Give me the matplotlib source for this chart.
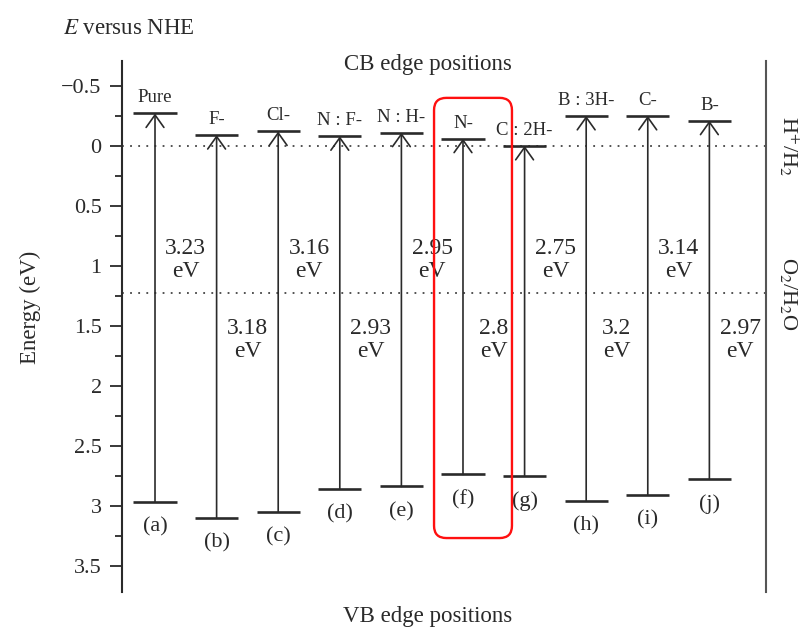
import numpy as np
import matplotlib.pyplot as plt
from matplotlib.patches import FancyBboxPatch
from matplotlib.ticker import MultipleLocator
import matplotlib.transforms as mtransforms

plt.rcParams['font.family'] = ['Liberation Serif', 'DejaVu Serif']
plt.rcParams['mathtext.fontset'] = 'stix'

# band edges (eV versus NHE) for each doped system
letters = ['(a)', '(b)', '(c)', '(d)', '(e)', '(f)', '(g)', '(h)', '(i)', '(j)']
dopants = ['Pure', 'F-', 'Cl-', 'N : F-', 'N : H-', 'N-', 'C : 2H-', 'B : 3H-', 'C-', 'B-']
cb_edge = [-0.27, -0.09, -0.12, -0.08, -0.11, -0.06, 0.00, -0.25, -0.25, -0.21]
vb_edge = [2.97, 3.10, 3.05, 2.86, 2.84, 2.74, 2.75, 2.96, 2.91, 2.78]
gaps = ['3.23', '3.18', '3.16', '2.93', '2.95', '2.8', '2.75', '3.2', '3.14', '2.97']

redox_levels = [0.0, 1.23]
redox_labels = [r'H$^{+}$/H$_2$', r'O$_2$/H$_2$O']

yticks = [-0.5, 0, 0.5, 1, 1.5, 2, 2.5, 3, 3.5]
ytick_labels = ['\u22120.5', '0', '0.5', '1', '1.5', '2', '2.5', '3', '3.5']

highlight = 5  # (f) N-

ink = '#2a2a2a'

fig = plt.figure(figsize=(8.01, 6.29), dpi=100)
ax = fig.add_axes([0.1523, 0.0588, 0.8036, 0.8447])

x = np.arange(1, len(dopants) + 1)

# dotted redox levels
for lev in redox_levels:
    ax.axhline(lev, color='#444444', lw=1.3, ls=(0, (1, 3.5)), zorder=1)

# CB and VB edge lines
ax.hlines(cb_edge, x - 0.35, x + 0.35, color=ink, lw=1.9, zorder=3)
ax.hlines(vb_edge, x - 0.35, x + 0.35, color=ink, lw=1.9, zorder=3)

for i, xi in enumerate(x):
    ax.annotate('', xy=(xi, cb_edge[i]), xytext=(xi, vb_edge[i]),
                arrowprops=dict(arrowstyle='->,head_length=0.45,head_width=0.32',
                                lw=1.2, color=ink, shrinkA=0, shrinkB=0,
                                mutation_scale=20), zorder=2)
    ax.annotate(dopants[i], xy=(xi, cb_edge[i]), xytext=(0, 8),
                textcoords='offset points', ha='center', va='baseline',
                fontsize=13.5, color=ink)
    ax.annotate(letters[i], xy=(xi, vb_edge[i]), xytext=(0, -11),
                textcoords='offset points', ha='center', va='top',
                fontsize=16, color=ink)
    ylab = 0.95 if i % 2 == 0 else 1.62
    ax.text(xi + 0.5, ylab, gaps[i] + '\neV', ha='center', va='center',
            fontsize=17, color=ink, linespacing=1.1)

# red highlight around (f)
h = highlight
box = FancyBboxPatch((x[h] - 0.47, cb_edge[h] - 0.34), 1.265,
                     (vb_edge[h] + 0.53) - (cb_edge[h] - 0.34),
                     boxstyle='round,pad=0,rounding_size=0.2',
                     mutation_aspect=0.513, ec='#ff1010', fc='none',
                     lw=1.7, clip_on=False, zorder=5)
ax.add_patch(box)

ax.set_xlim(0.464, 10.914)
ax.set_ylim(3.72, -0.71)
ax.set_xticks([])
ax.set_yticks(yticks)
ax.set_yticklabels(ytick_labels)
ax.yaxis.set_minor_locator(MultipleLocator(0.25))
ax.tick_params(axis='y', which='major', length=8.6, width=1.3, pad=6,
               labelsize=16, colors=ink)
ax.tick_params(axis='y', which='minor', length=5, width=1.3, colors=ink)

for s in ['top', 'bottom']:
    ax.spines[s].set_visible(False)
ax.spines['left'].set_linewidth(1.5)
ax.spines['left'].set_color(ink)
ax.spines['right'].set_linewidth(1.5)
ax.spines['right'].set_color('#555555')

# redox labels on the right
trans = mtransforms.blended_transform_factory(ax.transAxes, ax.transData)
for lev, lab in zip(redox_levels, redox_labels):
    ax.text(1.036, lev, lab, transform=trans, rotation=270, ha='center',
            va='center', fontsize=16, color=ink)

fig.text(0.0787, 0.9455, r'$\mathit{E}$ versus NHE', fontsize=16.5,
         ha='left', va='baseline', color=ink)
fig.text(427.5 / 801, 0.8887, 'CB edge positions', fontsize=16.5,
         ha='center', va='baseline', color=ink)
fig.text(428 / 801, 0.0111, 'VB edge positions', fontsize=16.5,
         ha='center', va='baseline', color=ink)
fig.text(0.0375, 0.512, 'Energy (eV)', fontsize=16.5, rotation=90,
         ha='center', va='center', color=ink)

plt.savefig('out.png', dpi=100)
plt.close()
